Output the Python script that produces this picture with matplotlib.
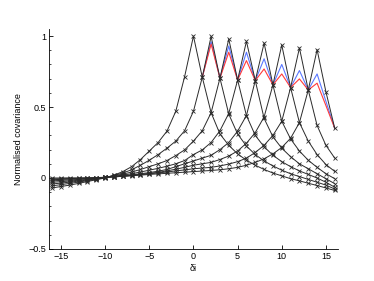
import matplotlib
matplotlib.use("Agg")
import matplotlib.pyplot as plt
from matplotlib.ticker import MultipleLocator
import numpy as np

plt.rcParams['font.family'] = ['Liberation Sans', 'DejaVu Sans']

lags = list(range(-16, 17))

cov_p0 = [-0.07, -0.06, -0.05, -0.038, -0.025, -0.012, 0.0,
          0.02, 0.045, 0.08, 0.13, 0.19, 0.25, 0.33, 0.47, 0.714, 1.0,
          0.71, 0.46, 0.31, 0.23, 0.17, 0.125, 0.09, 0.06, 0.035, 0.015,
          -0.005, -0.02, -0.037, -0.053, -0.07, -0.088]
cov_p2 = [-0.055, -0.047, -0.038, -0.029, -0.019, -0.009, 0.003,
          0.018, 0.035, 0.058, 0.09, 0.125, 0.165, 0.21, 0.26, 0.333, 0.47, 0.71, 0.998,
          0.703, 0.45, 0.31, 0.225, 0.165, 0.12, 0.085, 0.055, 0.03, 0.01,
          -0.01, -0.03, -0.05, -0.078]
cov_p4 = [-0.042, -0.036, -0.029, -0.022, -0.014, -0.006, 0.005,
          0.015, 0.027, 0.042, 0.06, 0.08, 0.1, 0.123, 0.158, 0.198, 0.26, 0.333, 0.46, 0.703, 0.979,
          0.69, 0.44, 0.30, 0.22, 0.16, 0.115, 0.08, 0.05, 0.025, 0.0, -0.03, -0.065]
cov_p6 = [-0.03, -0.026, -0.021, -0.016, -0.01, -0.004, 0.005,
          0.012, 0.02, 0.03, 0.042, 0.055, 0.068, 0.083, 0.1, 0.123, 0.165, 0.198, 0.25, 0.333, 0.455, 0.69, 0.963,
          0.686, 0.42, 0.29, 0.21, 0.15, 0.10, 0.065, 0.03, -0.005, -0.04]
cov_p8 = [-0.02, -0.017, -0.014, -0.01, -0.006, -0.002, 0.005,
          0.01, 0.015, 0.022, 0.03, 0.038, 0.048, 0.06, 0.08, 0.1, 0.12, 0.14, 0.16, 0.2, 0.25, 0.33, 0.44, 0.686, 0.95,
          0.656, 0.40, 0.275, 0.19, 0.125, 0.075, 0.03, -0.005]
cov_p10 = [-0.012, -0.01, -0.008, -0.006, -0.003, 0.0, 0.005,
           0.008, 0.012, 0.018, 0.025, 0.032, 0.04, 0.05, 0.062, 0.075, 0.09, 0.1, 0.11, 0.13, 0.155, 0.19, 0.245, 0.32, 0.43, 0.656, 0.937,
           0.637, 0.39, 0.26, 0.165, 0.095, 0.046]
cov_p12 = [-0.006, -0.005, -0.004, -0.003, -0.001, 0.001, 0.005,
           0.009, 0.013, 0.018, 0.024, 0.03, 0.036, 0.042, 0.05, 0.057, 0.065, 0.07, 0.075, 0.085, 0.098, 0.115, 0.14, 0.18, 0.23, 0.30, 0.40, 0.637, 0.916,
           0.62, 0.37, 0.23, 0.14]
cov_p14 = [0.0, 0.0, 0.001, 0.001, 0.002, 0.003, 0.005,
           0.008, 0.012, 0.016, 0.02, 0.025, 0.029, 0.033, 0.037, 0.041, 0.045, 0.049, 0.053, 0.058, 0.065, 0.075, 0.09, 0.11, 0.135, 0.17, 0.215, 0.28, 0.39, 0.62, 0.904,
           0.607, 0.35]

zig_lags = list(range(1, 17))
blue_vals = [0.71, 0.96, 0.703, 0.93, 0.69, 0.886, 0.686, 0.84, 0.656, 0.80,
             0.637, 0.757, 0.62, 0.733, 0.54, 0.35]
red_vals = [0.71, 0.944, 0.703, 0.886, 0.69, 0.827, 0.686, 0.768, 0.656, 0.733,
            0.637, 0.698, 0.62, 0.668, 0.51, 0.35]

curves = [cov_p0, cov_p2, cov_p4, cov_p6, cov_p8, cov_p10, cov_p12, cov_p14]

fig = plt.figure(figsize=(3.74, 2.81), dpi=100)
ax = fig.add_axes([0.130, 0.114, 0.7745, 0.783])

ax.plot(zig_lags, blue_vals, color='#5a78ff', lw=0.8, zorder=2)
ax.plot(zig_lags, red_vals, color='#ff3a3a', lw=0.8, zorder=2)
for c in curves:
    ax.plot(lags, c, color='#2a2a2a', lw=0.7, marker='x', ms=3.2, mew=0.6, zorder=3)

ax.set_xlim(-16.4, 16.4)
ax.set_ylim(-0.5, 1.05)
ax.set_xticks([-15, -10, -5, 0, 5, 10, 15])
ax.set_yticks([-0.5, 0, 0.5, 1])
ax.set_yticklabels(['\u22120.5', '0', '0.5', '1'])
ax.yaxis.set_minor_locator(MultipleLocator(0.1))
ax.tick_params(direction='in', length=3, width=0.6, labelsize=6.5, pad=2)
ax.tick_params(which='minor', direction='in', length=1.5, width=0.5)
ax.tick_params(axis='x', which='minor', bottom=False)
for s in ['top', 'right']:
    ax.spines[s].set_visible(False)
for s in ['left', 'bottom']:
    ax.spines[s].set_linewidth(0.6)
ax.set_xlabel('\u03b4i', fontsize=6.5, labelpad=2)
ax.set_ylabel('Normalised covariance', fontsize=6.5, labelpad=4)

fig.savefig('out.png', dpi=100)
